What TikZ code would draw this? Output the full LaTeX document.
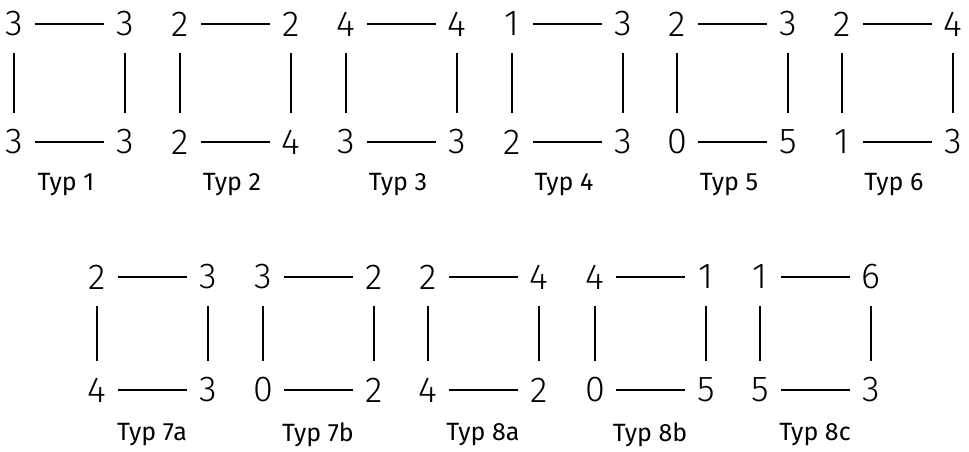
\documentclass[tikz,border=0pt]{standalone}
\usepackage{fontspec}
\setmainfont{Fira Sans}[UprightFont=* Light]
\newfontfamily\labfont{Fira Sans}

\begin{document}
\begin{tikzpicture}[
  x=0.5pt,y=-0.5pt,
  num/.style={inner sep=0pt,minimum width=21pt,minimum height=29pt,
              font=\fontsize{18}{18}\selectfont},
  lab/.style={font=\labfont\fontsize{12.5}{12.5}\selectfont},
  edge/.style={line width=0.9pt}
]
\useasboundingbox (0,0) rectangle (969,451);
% upper row: Typ 1 to Typ 6
\foreach \xa/\ka/\kb/\kc/\kd/\lbl [count=\i] in
  {14/3/3/3/3/1,180/2/2/2/4/2,346/4/4/3/3/3,512/1/3/2/3/4,677/2/3/0/5/5,842/2/4/1/3/6}{
  \node[num] (ua\i) at (\xa,24) {\ka};
  \node[num] (ub\i) at (\xa+111,24) {\kb};
  \node[num] (uc\i) at (\xa,142) {\kc};
  \node[num] (ud\i) at (\xa+111,142) {\kd};
  \draw[edge] (ua\i) -- (ub\i) (ua\i) -- (uc\i) (ub\i) -- (ud\i) (uc\i) -- (ud\i);
  \node[lab] (utyp\i) at (\xa+52,185) {Typ \lbl};
}
% lower row: Typ 7a to Typ 8c
\foreach \xa/\ka/\kb/\kc/\kd/\lbl [count=\i] in
  {97/2/3/4/3/7a,263/3/2/0/2/7b,428/2/4/4/2/8a,595/4/1/0/5/8b,760/1/6/5/3/8c}{
  \node[num] (la\i) at (\xa,277) {\ka};
  \node[num] (lb\i) at (\xa+111,277) {\kb};
  \node[num] (lc\i) at (\xa,390) {\kc};
  \node[num] (ld\i) at (\xa+111,390) {\kd};
  \draw[edge] (la\i) -- (lb\i) (la\i) -- (lc\i) (lb\i) -- (ld\i) (lc\i) -- (ld\i);
  \node[lab] (ltyp\i) at (\xa+55,435) {Typ \lbl};
}
\end{tikzpicture}
\end{document}
